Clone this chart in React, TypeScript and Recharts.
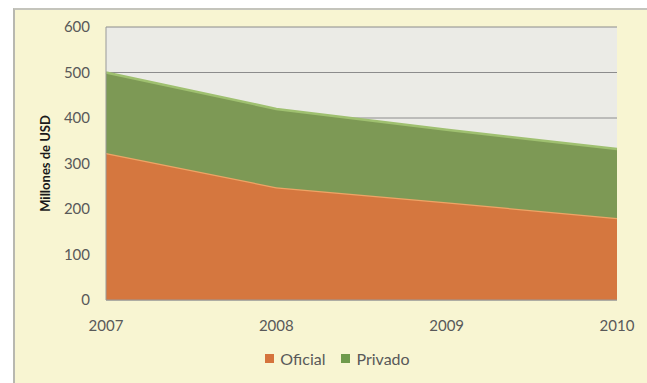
import { AreaChart, Area, XAxis, YAxis, CartesianGrid, Legend } from "recharts";

const years = ["2007", "2008", "2009", "2010"];
const oficial = [323, 248, 215, 180];
const privado = [177, 172, 159, 152];
const yTicks = [0, 100, 200, 300, 400, 500, 600];

const data = years.map((year, i) => ({ year, oficial: oficial[i], privado: privado[i] }));

const FONT = "Lato, 'Open Sans', sans-serif";

function LegendContent() {
  const items = [
    { name: "Oficial", color: "#d5733c" },
    { name: "Privado", color: "#6f9a4c" },
  ];
  return (
    <div style={{ display: "flex", justifyContent: "center", gap: 16, fontFamily: FONT, fontSize: 16, color: "#595959", paddingLeft: 12 }}>
      {items.map((it) => (
        <span key={it.name} style={{ display: "flex", alignItems: "center", gap: 6 }}>
          <span style={{ width: 9, height: 9, background: it.color, display: "inline-block" }} />
          {it.name}
        </span>
      ))}
    </div>
  );
}

export default function App() {
  return (
    <div style={{ position: "absolute", left: 0, top: 0, width: 647, height: 383, background: "#ffffff", overflow: "hidden" }}>
      <div
        style={{
          position: "absolute",
          left: 13,
          top: 8,
          width: 660,
          height: 400,
          background: "#f8f5d2",
          borderLeft: "2px solid #b8b8b0",
          borderTop: "2px solid #c4c4bc",
        }}
      />
      <div style={{ position: "absolute", left: 0, top: 0 }}>
        <AreaChart width={647} height={383} data={data} margin={{ top: 27, right: 30, bottom: 28, left: 46 }}>
          <CartesianGrid vertical={false} stroke="#8c8c8c" strokeWidth={1} fill="#ebebe6" fillOpacity={1} />
          <XAxis
            dataKey="year"
            tick={{ fontSize: 15, fill: "#595959", fontFamily: FONT }}
            tickLine={false}
            axisLine={{ stroke: "#999" }}
            height={36}
            tickMargin={14}
          />
          <YAxis
            domain={[0, 600]}
            ticks={yTicks}
            width={60}
            tick={{ fontSize: 15, fill: "#595959", fontFamily: FONT }}
            tickLine={false}
            axisLine={{ stroke: "#999" }}
            tickMargin={10}
            label={{
              value: "Millones de USD",
              angle: -90,
              position: "insideLeft",
              offset: -1,
              style: { fontSize: 13, fontWeight: 700, fill: "#1a1a1a", fontFamily: FONT, textAnchor: "middle" },
            }}
          />
          <Legend verticalAlign="bottom" content={<LegendContent />} wrapperStyle={{ bottom: 15 }} />
          <Area
            type="linear"
            dataKey="oficial"
            name="Oficial"
            stackId="a"
            fill="#d5773f"
            fillOpacity={1}
            stroke="#eea466"
            strokeWidth={2.5}
            isAnimationActive={false}
          />
          <Area
            type="linear"
            dataKey="privado"
            name="Privado"
            stackId="a"
            fill="#7d9955"
            fillOpacity={1}
            stroke="#9fc070"
            strokeWidth={2.5}
            isAnimationActive={false}
          />
        </AreaChart>
      </div>
    </div>
  );
}
